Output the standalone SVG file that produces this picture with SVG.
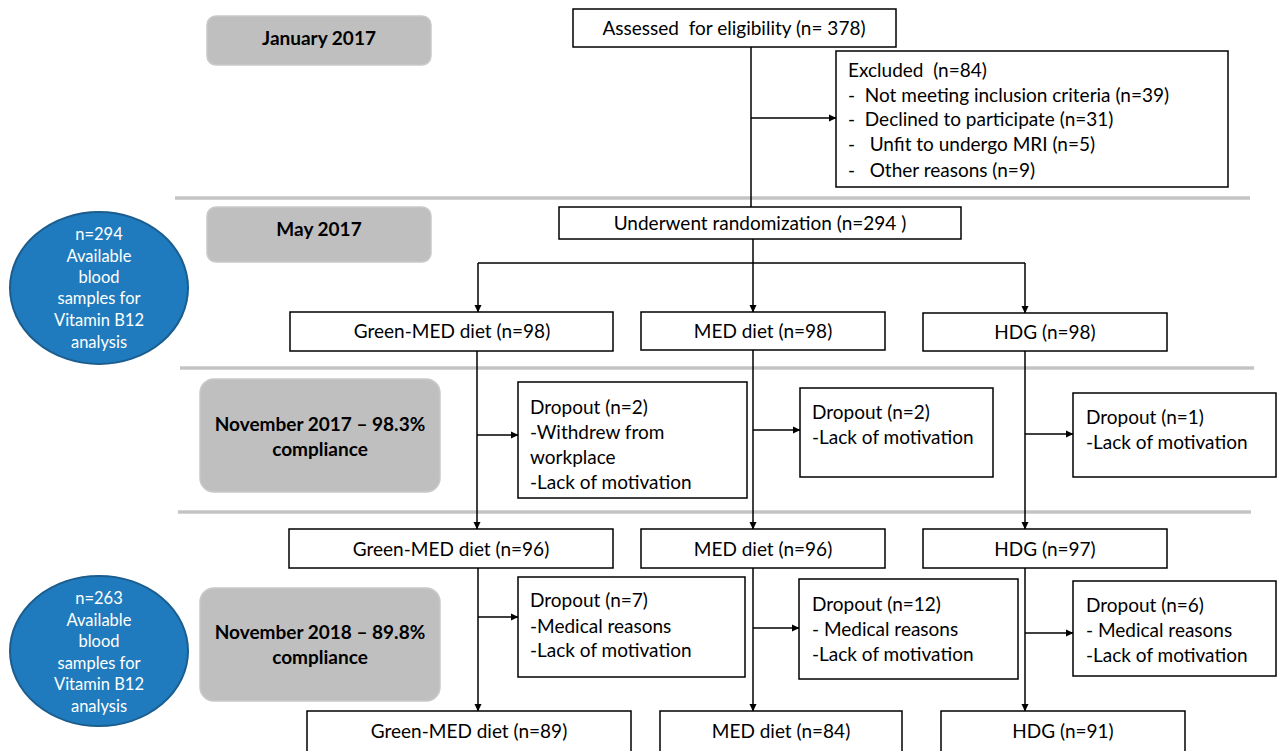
<svg xmlns="http://www.w3.org/2000/svg" width="1285" height="751" viewBox="0 0 1285 751">
<defs>
<marker id="ah" markerWidth="8" markerHeight="8" refX="7" refY="4" orient="auto" markerUnits="userSpaceOnUse">
<path d="M0,0.5 L7.5,4 L0,7.5 Z" fill="#000"/>
</marker>
<style>
.box{fill:#fff;stroke:#000;stroke-width:1.5}
.gray{fill:#bfbfbf;stroke:#c9c9c9;stroke-width:1.5}
.sep{stroke:#c4c4c4;stroke-width:3.5}
.blue{fill:#1f7bbd;stroke:#1b5d8e;stroke-width:2}
text{white-space:pre}
.t{font-family:Lato,"Liberation Sans",sans-serif;font-size:19px;fill:#000}
.b{font-family:Lato,"Liberation Sans",sans-serif;font-size:19px;font-weight:bold;fill:#000}
.w{font-family:Lato,"Liberation Sans",sans-serif;font-size:16.5px;fill:#fff}
.c{stroke:#000;stroke-width:1.5;fill:none}
.a{stroke:#000;stroke-width:1.5;fill:none;marker-end:url(#ah)}
</style>
</defs>
<rect width="1285" height="751" fill="#fff"/>
<g id="separators">
<line class="sep" x1="175" y1="198" x2="1250" y2="198"/>
<line class="sep" x1="180" y1="368" x2="1254" y2="368"/>
<line class="sep" x1="178" y1="512" x2="1251" y2="512"/>
</g>
<g id="jan2017"><rect class="gray" x="207" y="16" width="224" height="49" rx="9"/><text class="b" x="319" y="45" text-anchor="middle">January 2017</text></g>
<g id="may2017"><rect class="gray" x="207" y="207" width="224" height="55" rx="9"/><text class="b" x="319" y="236" text-anchor="middle">May 2017</text></g>
<g id="nov2017"><rect class="gray" x="200" y="379" width="240" height="113" rx="14"/><text class="b" x="320" y="431" text-anchor="middle">November 2017 – 98.3%</text><text class="b" x="320" y="456" text-anchor="middle">compliance</text></g>
<g id="nov2018"><rect class="gray" x="200" y="588" width="240" height="113" rx="14"/><text class="b" x="320" y="639" text-anchor="middle">November 2018 – 89.8%</text><text class="b" x="320" y="664" text-anchor="middle">compliance</text></g>
<g id="blood294"><ellipse class="blue" cx="99" cy="288" rx="89" ry="76"/>
<g text-anchor="middle"><text class="w" x="99" y="240">n=294</text><text class="w" x="99" y="262">Available</text><text class="w" x="99" y="283">blood</text><text class="w" x="99" y="304">samples for</text><text class="w" x="99" y="326">Vitamin B12</text><text class="w" x="99" y="348">analysis</text></g></g>
<g id="blood263"><ellipse class="blue" cx="99" cy="651" rx="89" ry="75"/>
<g text-anchor="middle"><text class="w" x="99" y="604">n=263</text><text class="w" x="99" y="626">Available</text><text class="w" x="99" y="647">blood</text><text class="w" x="99" y="669">samples for</text><text class="w" x="99" y="690">Vitamin B12</text><text class="w" x="99" y="712">analysis</text></g></g>
<g id="connectors">
<line class="c" x1="751" y1="47" x2="751" y2="207"/>
<line class="a" x1="751" y1="118" x2="836" y2="118"/>
<line class="c" x1="753" y1="239" x2="753" y2="263"/>
<line class="c" x1="478" y1="263" x2="1025" y2="263"/>
<line class="a" x1="478" y1="263" x2="478" y2="312"/>
<line class="a" x1="753" y1="263" x2="753" y2="312"/>
<line class="a" x1="1025" y1="263" x2="1025" y2="313"/>
<line class="a" x1="477" y1="351" x2="477" y2="529"/>
<line class="a" x1="753" y1="350" x2="753" y2="529"/>
<line class="a" x1="1025" y1="351" x2="1025" y2="529"/>
<line class="a" x1="477" y1="435" x2="518" y2="435"/>
<line class="a" x1="753" y1="430" x2="800" y2="430"/>
<line class="a" x1="1025" y1="434" x2="1073" y2="434"/>
<line class="a" x1="478" y1="568" x2="478" y2="711"/>
<line class="a" x1="753" y1="568" x2="753" y2="711"/>
<line class="a" x1="1025" y1="568" x2="1025" y2="711"/>
<line class="a" x1="478" y1="617" x2="518" y2="617"/>
<line class="a" x1="753" y1="628" x2="799" y2="628"/>
<line class="a" x1="1025" y1="633" x2="1073" y2="633"/>
</g>
<g id="assessed"><rect class="box" x="573" y="9" width="323" height="38"/><text class="t" x="734" y="35" text-anchor="middle">Assessed  for eligibility (n= 378)</text></g>
<g id="excluded"><rect class="box" x="836" y="51" width="392" height="136"/>
<text class="t" x="848" y="77">Excluded  (n=84)</text>
<text class="t" x="848" y="102">-  Not meeting inclusion criteria (n=39)</text>
<text class="t" x="848" y="126">-  Declined to participate (n=31)</text>
<text class="t" x="848" y="151">-   Unfit to undergo MRI (n=5)</text>
<text class="t" x="848" y="177">-   Other reasons (n=9)</text></g>
<g id="randomization"><rect class="box" x="559" y="207" width="402" height="32"/><text class="t" x="760" y="230" text-anchor="middle">Underwent randomization (n=294 )</text></g>
<g id="green98"><rect class="box" x="290" y="312" width="323" height="39"/><text class="t" x="452" y="338" text-anchor="middle">Green-MED diet (n=98)</text></g>
<g id="med98"><rect class="box" x="641" y="312" width="244" height="38"/><text class="t" x="763" y="338" text-anchor="middle">MED diet (n=98)</text></g>
<g id="hdg98"><rect class="box" x="923" y="313" width="244" height="38"/><text class="t" x="1045" y="339" text-anchor="middle">HDG (n=98)</text></g>
<g id="drop1"><rect class="box" x="518" y="382" width="229" height="116"/>
<text class="t" x="530" y="414">Dropout (n=2)</text><text class="t" x="530" y="439">-Withdrew from</text><text class="t" x="530" y="464">workplace</text><text class="t" x="530" y="489">-Lack of motivation</text></g>
<g id="drop2"><rect class="box" x="800" y="388" width="193" height="89"/>
<text class="t" x="812" y="419">Dropout (n=2)</text><text class="t" x="812" y="444">-Lack of motivation</text></g>
<g id="drop3"><rect class="box" x="1073" y="393" width="203" height="84"/>
<text class="t" x="1086" y="424">Dropout (n=1)</text><text class="t" x="1086" y="449">-Lack of motivation</text></g>
<g id="green96"><rect class="box" x="289" y="529" width="324" height="39"/><text class="t" x="451" y="556" text-anchor="middle">Green-MED diet (n=96)</text></g>
<g id="med96"><rect class="box" x="641" y="529" width="244" height="39"/><text class="t" x="763" y="556" text-anchor="middle">MED diet (n=96)</text></g>
<g id="hdg97"><rect class="box" x="923" y="529" width="244" height="39"/><text class="t" x="1045" y="556" text-anchor="middle">HDG (n=97)</text></g>
<g id="drop4"><rect class="box" x="518" y="577" width="227" height="100"/>
<text class="t" x="530" y="607">Dropout (n=7)</text><text class="t" x="530" y="633">-Medical reasons</text><text class="t" x="530" y="657">-Lack of motivation</text></g>
<g id="drop5"><rect class="box" x="799" y="579" width="219" height="100"/>
<text class="t" x="812" y="611">Dropout (n=12)</text><text class="t" x="812" y="636">- Medical reasons</text><text class="t" x="812" y="661">-Lack of motivation</text></g>
<g id="drop6"><rect class="box" x="1073" y="581" width="203" height="95"/>
<text class="t" x="1086" y="612">Dropout (n=6)</text><text class="t" x="1086" y="637">- Medical reasons</text><text class="t" x="1086" y="662">-Lack of motivation</text></g>
<g id="green89"><rect class="box" x="307" y="711" width="324" height="42"/><text class="t" x="469" y="738" text-anchor="middle">Green-MED diet (n=89)</text></g>
<g id="med84"><rect class="box" x="660" y="711" width="242" height="42"/><text class="t" x="781" y="738" text-anchor="middle">MED diet (n=84)</text></g>
<g id="hdg91"><rect class="box" x="941" y="711" width="244" height="42"/><text class="t" x="1063" y="738" text-anchor="middle">HDG (n=91)</text></g>
</svg>
